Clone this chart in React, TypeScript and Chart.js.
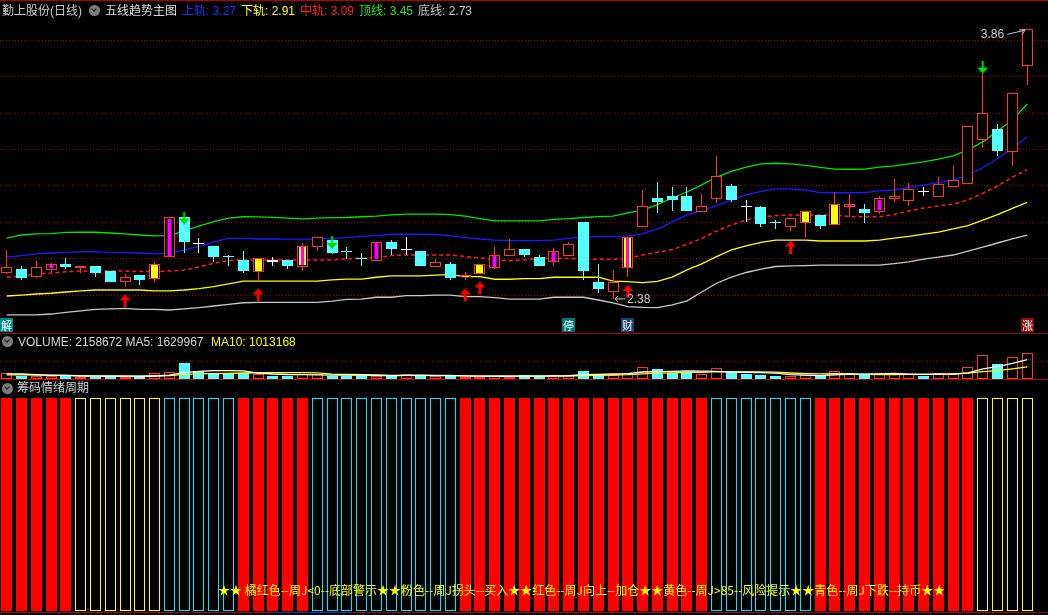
import React, { useEffect, useRef } from "react";
import { Chart, registerables } from "chart.js";
Chart.register(...registerables);

// ---------- index axis ----------
const X_MIN = -0.453;
const X_MAX = 70.41;
const P_MIN = 2.1928;
const P_MAX = 4.0213;

// ---------- price panel (五线趋势主图) ----------
const opens = [2.521,2.543,2.499,2.541,2.570,2.551,2.561,2.533,2.471,2.511,
2.491,2.609,2.828,2.685,2.670,2.616,2.594,2.529,2.588,2.594,
2.557,2.667,2.703,2.639,2.603,2.590,2.691,2.649,2.643,2.557,
2.572,2.499,2.517,2.551,2.617,2.654,2.612,2.581,2.617,2.804,
2.475,2.420,2.551,2.777,2.934,2.945,2.945,2.859,2.930,3.000,
2.886,2.886,2.801,2.777,2.798,2.841,2.786,2.886,2.874,2.859,
2.929,2.919,2.969,2.941,2.996,3.009,3.253,3.313,3.188,3.661];
const highs = [2.649,2.561,2.589,2.579,2.603,2.561,2.561,2.533,2.517,2.511,
2.583,2.828,2.830,2.713,2.670,2.621,2.643,2.603,2.612,2.594,
2.685,2.718,2.703,2.667,2.630,2.693,2.703,2.722,2.643,2.597,
2.584,2.529,2.572,2.667,2.709,2.654,2.621,2.661,2.691,2.804,
2.572,2.539,2.720,2.978,3.022,2.996,2.996,2.956,3.165,3.011,
2.923,2.892,2.813,2.823,2.863,2.841,2.965,2.956,2.901,2.945,
3.038,3.018,2.993,3.048,3.115,3.329,3.620,3.340,3.509,3.860];
const lows = [2.517,2.484,2.497,2.521,2.544,2.524,2.502,2.475,2.444,2.455,
2.475,2.609,2.634,2.634,2.584,2.562,2.524,2.484,2.562,2.544,
2.535,2.643,2.625,2.597,2.562,2.588,2.621,2.621,2.560,2.557,
2.484,2.484,2.517,2.544,2.617,2.609,2.562,2.562,2.617,2.484,
2.414,2.380,2.502,2.777,2.853,2.864,2.864,2.859,2.905,2.914,
2.804,2.777,2.764,2.755,2.722,2.764,2.786,2.831,2.795,2.846,
2.914,2.892,2.945,2.941,2.996,3.009,3.207,3.167,3.110,3.555];
const closes = [2.554,2.497,2.554,2.570,2.557,2.561,2.524,2.475,2.500,2.484,
2.572,2.828,2.694,2.685,2.612,2.615,2.535,2.603,2.588,2.562,
2.670,2.718,2.634,2.638,2.602,2.691,2.654,2.649,2.562,2.581,
2.493,2.511,2.572,2.621,2.652,2.621,2.562,2.643,2.683,2.535,
2.434,2.475,2.720,2.890,2.914,2.923,2.864,2.890,3.055,2.923,
2.886,2.791,2.800,2.823,2.863,2.780,2.901,2.899,2.853,2.932,
2.945,2.982,2.969,3.011,3.033,3.329,3.399,3.194,3.509,3.860];

const topLine = [2.714,2.731,2.737,2.739,2.745,2.746,2.746,2.742,2.737,2.731,
2.726,2.728,2.753,2.780,2.805,2.824,2.831,2.830,2.828,2.824,
2.819,2.824,2.826,2.827,2.831,2.835,2.841,2.845,2.845,2.845,
2.843,2.835,2.821,2.808,2.808,2.808,2.808,2.817,2.821,2.827,
2.832,2.835,2.852,2.868,2.898,2.934,2.967,3.006,3.049,3.080,
3.104,3.121,3.125,3.121,3.113,3.102,3.093,3.092,3.093,3.104,
3.110,3.121,3.132,3.148,3.165,3.198,3.242,3.302,3.362,3.450];
const upperBand = [2.609,2.618,2.627,2.632,2.636,2.638,2.640,2.636,2.634,2.632,
2.627,2.632,2.649,2.668,2.693,2.712,2.712,2.709,2.709,2.708,
2.708,2.708,2.712,2.717,2.723,2.728,2.735,2.735,2.735,2.734,
2.726,2.717,2.709,2.703,2.700,2.700,2.700,2.703,2.712,2.720,
2.722,2.722,2.726,2.737,2.764,2.802,2.841,2.865,2.893,2.923,
2.951,2.970,2.984,2.984,2.978,2.964,2.963,2.963,2.964,2.973,
2.978,2.992,3.005,3.019,3.033,3.060,3.100,3.151,3.205,3.270];
const midLine = [2.499,2.506,2.517,2.522,2.529,2.533,2.533,2.533,2.533,2.530,
2.530,2.533,2.539,2.555,2.576,2.590,2.594,2.594,2.594,2.594,
2.594,2.594,2.594,2.599,2.603,2.605,2.618,2.621,2.621,2.621,
2.621,2.613,2.605,2.594,2.590,2.594,2.602,2.603,2.602,2.598,
2.598,2.598,2.603,2.621,2.636,2.651,2.679,2.712,2.753,2.786,
2.813,2.830,2.838,2.841,2.841,2.841,2.841,2.832,2.831,2.831,
2.843,2.863,2.879,2.890,2.901,2.923,2.960,3.000,3.048,3.090];
const lowerBand = [2.396,2.401,2.407,2.411,2.418,2.424,2.429,2.429,2.429,2.429,
2.424,2.424,2.429,2.436,2.447,2.462,2.478,2.478,2.478,2.478,
2.478,2.478,2.484,2.489,2.489,2.499,2.506,2.506,2.506,2.511,
2.513,2.502,2.502,2.488,2.488,2.491,2.491,2.499,2.499,2.499,
2.499,2.478,2.475,2.469,2.476,2.500,2.539,2.572,2.612,2.649,
2.671,2.690,2.703,2.703,2.703,2.698,2.698,2.698,2.698,2.703,
2.714,2.723,2.736,2.747,2.764,2.783,2.813,2.843,2.877,2.910];
const bottomLine = [2.292,2.292,2.292,2.297,2.306,2.314,2.323,2.325,2.328,2.323,
2.323,2.319,2.325,2.332,2.341,2.350,2.359,2.361,2.361,2.361,
2.361,2.361,2.368,2.377,2.379,2.389,2.389,2.398,2.398,2.401,
2.401,2.392,2.392,2.387,2.379,2.379,2.379,2.389,2.389,2.389,
2.374,2.358,2.338,2.333,2.332,2.347,2.369,2.418,2.466,2.500,
2.525,2.544,2.558,2.561,2.563,2.565,2.565,2.565,2.565,2.566,
2.574,2.583,2.599,2.610,2.621,2.643,2.665,2.687,2.709,2.730];

const priceTicks = [2.4, 2.6, 2.8, 3.0, 3.2, 3.4, 3.6, 3.8];

// special candle bodies: m = magenta core, y = yellow, s = yellow + magenta stripe
const fillIdx = [3, 10, 11, 17, 20, 25, 31, 32, 33, 37, 42, 54, 56, 57, 59];
const fillKind = ["m", "y", "m", "y", "s", "m", "y", "y", "m", "m", "s", "y", "y", "m", "m"];

const buyIdx = [8, 17, 31, 32, 42, 53];
const buyAt = [2.369, 2.402, 2.402, 2.440, 2.421, 2.665];
const sellIdx = [12, 22, 66];
const sellAt = [2.824, 2.690, 3.653];

const tagIdx = [0, 38, 42, 69];
const tagText = ["解", "停", "财", "涨"];
const tagBg = ["#008a8a", "#007878", "#1c3b6e", "#8c1010"];

// ---------- volume panel ----------
const volumes = [480000,252000,277000,252000,277000,193000,193000,252000,193000,143000,
479000,563000,1344000,647000,479000,479000,479000,420000,252000,252000,
420000,420000,277000,277000,277000,277000,252000,420000,277000,227000,
277000,143000,193000,277000,193000,336000,193000,336000,336000,672000,
420000,336000,529000,983000,840000,529000,529000,420000,899000,563000,
420000,336000,277000,227000,336000,277000,647000,420000,395000,420000,
420000,420000,252000,479000,479000,983000,2016000,1260000,1823000,2158672];
const volDir = "rcrrcrccrcrrcccccrccrrcccrcrcrcrrrrccrrccrrrcccrrccccrrcrrcrrrcrrrrcrr".split("");
const ma5 = [430000,420000,360000,300000,308000,250000,238000,233000,222000,195000,
252000,326000,544000,635000,702000,702000,686000,501000,422000,376000,
365000,353000,324000,329000,334000,306000,272000,301000,301000,291000,
291000,269000,223000,223000,217000,228000,238000,267000,279000,375000,
391000,420000,459000,588000,622000,643000,682000,660000,643000,588000,
566000,528000,499000,365000,319000,291000,353000,381000,415000,432000,
460000,415000,381000,398000,410000,523000,842000,1043000,1312000,1629967];
const ma10 = [350000,340000,330000,320000,310000,290000,270000,260000,255000,251000,
251000,282000,389000,428000,449000,477000,506000,523000,529000,539000,
534000,519000,413000,376000,355000,335000,312000,312000,315000,312000,
298000,270000,262000,262000,254000,260000,254000,245000,251000,296000,
310000,329000,363000,433000,498000,517000,551000,559000,616000,605000,
605000,605000,580000,504000,454000,428000,440000,440000,390000,376000,
376000,384000,381000,407000,421000,492000,628000,712000,855000,1013168];
const volTicks = [1500000];

// ---------- 筹码情绪周期 ----------
const cycleCode = "RRRRRYYYYYYCCCCCRRRRRCCCCCCCCCCRRRRRRRRRRRRRRRRRCCCCCCCRRRRRRRRRRRYYYY".split("");
const cycleValue = [1,1,1,1,1,1,1,1,1,1,1,1,1,1,1,1,1,1,1,1,1,1,1,1,1,1,1,1,1,1,1,1,1,1,1,
1,1,1,1,1,1,1,1,1,1,1,1,1,1,1,1,1,1,1,1,1,1,1,1,1,1,1,1,1,1,1,1,1,1,1];
const cycleLegend = "★★ 橘红色--周J<0--底部警示★★粉色--周J拐头--买入★★红色--周J向上--加仓★★黄色--周J>85--风险提示★★青色--周J下跌--持币★★";

// ---------- styles ----------
const RED = "#ff3232";
const CYAN = "#54ffff";
const WHITE = "#ffffff";
const YEL = "#ffff00";
const MAG = "#ff00ff";
const GRID = "#a00000";
const SEP = "#b00000";
const FONT = "'Liberation Sans','Noto Sans CJK SC',sans-serif";

const pxOf = (i: number) => ((i - X_MIN) / (X_MAX - X_MIN)) * 1048;

function kind(i: number) {
  const d = closes[i] - opens[i];
  if (Math.abs(d) < 0.002) return d === 0 ? "w" : "c";
  return d > 0 ? "u" : "d";
}

function arrowImg(color: string, up: boolean) {
  const c = document.createElement("canvas");
  c.width = 11;
  c.height = 13;
  const g = c.getContext("2d")!;
  g.fillStyle = color;
  g.beginPath();
  if (up) {
    g.moveTo(5.5, 0);
    g.lineTo(11, 6);
    g.lineTo(0, 6);
    g.closePath();
    g.fill();
    g.fillRect(4, 6, 3, 7);
  } else {
    g.fillRect(4.5, 0, 2, 7);
    g.moveTo(0, 7);
    g.lineTo(11, 7);
    g.lineTo(5.5, 13);
    g.closePath();
    g.fill();
  }
  return c;
}

// snap bar elements to whole pixels so the 1px borders stay crisp
const snapBars = {
  id: "snapBars",
  afterDatasetsUpdate(chart: any) {
    chart.getSortedVisibleDatasetMetas().forEach((meta: any) => {
      if (meta.type !== "bar") return;
      meta.data.forEach((el: any) => {
        if (el.x == null || isNaN(el.x)) return;
        el.x = Math.floor(el.x) + 0.5;
        const top = Math.min(el.y, el.base);
        const bot = Math.max(el.y, el.base);
        const rTop = Math.round(top);
        const rBot = Math.max(Math.round(bot), rTop + 1);
        el.y = rTop;
        el.base = rBot;
      });
    });
  },
};

const baseOpts = (yScale: any, padding: any) => ({
  animation: false as const,
  responsive: false,
  maintainAspectRatio: false,
  devicePixelRatio: 1,
  events: [] as any[],
  layout: { padding, autoPadding: false },
  plugins: { legend: { display: false }, tooltip: { enabled: false }, title: { display: false } },
  scales: {
    x: { type: "linear" as const, min: X_MIN, max: X_MAX, stacked: true, offset: false, display: false },
    y: yScale,
  },
});

function Icon({ x, y }: { x: number; y: number }) {
  return (
    <div style={{ position: "absolute", left: x, top: y, width: 11, height: 11, borderRadius: "50%", background: "#7c7c7c" }}>
      <div style={{ position: "absolute", left: 3.2, top: 2, width: 3, height: 3, borderRight: "1.5px solid #1a1a1a", borderBottom: "1.5px solid #1a1a1a", transform: "rotate(45deg)" }} />
    </div>
  );
}

function T({ x, y, color, children, font }: any) {
  return (
    <div style={{ position: "absolute", left: x, top: y, color, fontSize: 12, lineHeight: "14px", whiteSpace: "nowrap", fontFamily: font || FONT }}>
      {children}
    </div>
  );
}

export default function App() {
  const mainRef = useRef<HTMLCanvasElement>(null);
  const volRef = useRef<HTMLCanvasElement>(null);
  const cycRef = useRef<HTMLCanvasElement>(null);

  useEffect(() => {
    document.body.style.margin = "0";
    document.body.style.background = "#000";
    const charts: Chart[] = [];
    const N = closes.length;
    const idx = Array.from({ length: N }, (_, i) => i);

    // ---------- main ----------
    const lineDs = (vals: number[], color: string, width: number, dash: number[] = []) => ({
      type: "line" as const,
      data: vals.map((v, i) => ({ x: i, y: v })),
      borderColor: color,
      borderWidth: width,
      borderDash: dash,
      pointRadius: 0,
      tension: 0,
      order: 10,
    });
    const wickColor = (i: number) => {
      const k = kind(i);
      return k === "u" ? RED : k === "w" ? WHITE : CYAN;
    };
    const bodyRange = (i: number) => {
      const k = kind(i);
      if (k === "w" || k === "c") return [closes[i] - 0.003, closes[i] + 0.003];
      return [opens[i], closes[i]];
    };
    const innerRange = (i: number) => {
      const lo = Math.min(opens[i], closes[i]);
      const hi = Math.max(opens[i], closes[i]);
      const inset = hi - lo < 0.02 ? (hi - lo) * 0.25 : 0.0065;
      return [lo + inset, hi - inset];
    };
    const barCommon = { type: "bar" as const, borderSkipped: false, inflateAmount: 0 };
    const yellowIdx = fillIdx.filter((_, k) => fillKind[k] === "y" || fillKind[k] === "s");
    const magIdx = fillIdx.filter((_, k) => fillKind[k] === "m");
    const stripeIdx = fillIdx.filter((_, k) => fillKind[k] === "s");

    const annot = {
      id: "hilo",
      afterDatasetsDraw(chart: any) {
        const { ctx, scales } = chart;
        const xs = scales.x, ys = scales.y;
        let hi = 0, lo = 0;
        for (let i = 0; i < N; i++) {
          if (highs[i] > highs[hi]) hi = i;
          if (lows[i] < lows[lo]) lo = i;
        }
        ctx.save();
        ctx.font = "12px 'Liberation Sans'";
        ctx.fillStyle = "#c8c8c8";
        ctx.strokeStyle = "#c8c8c8";
        ctx.lineWidth = 1;
        const hx = xs.getPixelForValue(hi), hy = ys.getPixelForValue(highs[hi]);
        ctx.textAlign = "right";
        ctx.textBaseline = "middle";
        ctx.fillText(highs[hi].toFixed(2), hx - 23, hy + 5);
        ctx.beginPath();
        ctx.moveTo(hx - 20, hy + 5);
        ctx.lineTo(hx - 3, hy + 1);
        ctx.stroke();
        ctx.beginPath();
        ctx.moveTo(hx - 8, hy + 0.5);
        ctx.lineTo(hx - 2, hy + 0.5);
        ctx.lineTo(hx - 5, hy + 5);
        ctx.stroke();
        const lx = xs.getPixelForValue(lo), ly = ys.getPixelForValue(lows[lo]);
        ctx.textAlign = "left";
        ctx.fillText(lows[lo].toFixed(2), lx + 14, ly + 1);
        ctx.beginPath();
        ctx.moveTo(lx + 12, ly);
        ctx.lineTo(lx + 2, ly);
        ctx.moveTo(lx + 5, ly - 3);
        ctx.lineTo(lx + 2, ly);
        ctx.lineTo(lx + 5, ly + 3);
        ctx.stroke();
        ctx.restore();
      },
    };

    const mainDatasets: any[] = [
      lineDs(topLine, "#00e600", 1.3),
      lineDs(upperBand, "#1a1aff", 1.3),
      lineDs(midLine, "#ff1a1a", 1.5, [4, 3]),
      lineDs(lowerBand, YEL, 1.3),
      lineDs(bottomLine, "#c8c8c8", 1.3),
      {
        ...barCommon,
        data: idx.map((i) => ({ x: i, y: [lows[i], highs[i]] })),
        backgroundColor: idx.map(wickColor),
        borderWidth: 0,
        barThickness: 1,
        order: 6,
      },
      {
        ...barCommon,
        data: idx.map((i) => ({ x: i, y: bodyRange(i) })),
        backgroundColor: idx.map((i) => {
          const k = kind(i);
          return k === "u" ? "#000000" : k === "w" ? WHITE : CYAN;
        }),
        borderColor: idx.map((i) => (kind(i) === "u" ? RED : CYAN)),
        borderWidth: idx.map((i) => (kind(i) === "u" || kind(i) === "d" ? 1 : 0)),
        barThickness: 11,
        order: 5,
      },
      {
        ...barCommon,
        data: yellowIdx.map((i) => ({ x: i, y: innerRange(i) })),
        backgroundColor: YEL,
        borderWidth: 0,
        barThickness: 7,
        order: 4,
      },
      {
        ...barCommon,
        data: magIdx.map((i) => ({ x: i, y: innerRange(i) })),
        backgroundColor: MAG,
        borderWidth: 0,
        barThickness: 4,
        order: 3,
      },
      {
        ...barCommon,
        data: stripeIdx.map((i) => ({ x: i, y: innerRange(i) })),
        backgroundColor: MAG,
        borderWidth: 0,
        barThickness: 3,
        order: 3,
      },
      {
        type: "line" as const,
        data: buyIdx.map((i, k) => ({ x: i, y: buyAt[k] })),
        showLine: false,
        pointStyle: arrowImg("#ff0000", true),
        pointRadius: 6,
        order: 1,
      },
      {
        type: "line" as const,
        data: sellIdx.map((i, k) => ({ x: i, y: sellAt[k] })),
        showLine: false,
        pointStyle: arrowImg("#00dd00", false),
        pointRadius: 6,
        order: 1,
      },
    ];

    if (mainRef.current) {
      charts.push(
        new Chart(mainRef.current, {
          type: "bar",
          data: { datasets: mainDatasets },
          options: baseOpts(
            {
              type: "linear",
              min: P_MIN,
              max: P_MAX,
              stacked: false,
              ticks: { display: false },
              grid: { color: GRID, drawTicks: false, lineWidth: 1 },
              border: { display: false, dash: [1, 2] },
              afterBuildTicks: (s: any) => {
                s.ticks = priceTicks.map((v) => ({ value: v }));
              },
              afterFit: (s: any) => {
                s.width = 0;
              },
            },
            0
          ) as any,
          plugins: [snapBars, annot],
        })
      );
    }

    // ---------- volume ----------
    if (volRef.current) {
      charts.push(
        new Chart(volRef.current, {
          type: "bar",
          data: {
            datasets: [
              {
                type: "line",
                data: ma5.map((v, i) => ({ x: i, y: v })),
                borderColor: "#ffffff",
                borderWidth: 1.3,
                pointRadius: 0,
                order: 1,
              } as any,
              {
                type: "line",
                data: ma10.map((v, i) => ({ x: i, y: v })),
                borderColor: YEL,
                borderWidth: 1.3,
                pointRadius: 0,
                order: 1,
              } as any,
              {
                ...barCommon,
                data: volumes.map((v, i) => ({ x: i, y: v })),
                backgroundColor: volDir.map((d) => (d === "r" ? "#000000" : CYAN)),
                borderColor: volDir.map((d) => (d === "r" ? RED : CYAN)),
                borderWidth: 1,
                barThickness: 11,
                order: 2,
              } as any,
            ],
          },
          options: baseOpts(
            {
              type: "linear",
              min: 0,
              max: 3864000,
              stacked: false,
              ticks: { display: false },
              grid: { color: GRID, drawTicks: false, lineWidth: 1 },
              border: { display: false, dash: [1, 2] },
              afterBuildTicks: (s: any) => {
                s.ticks = volTicks.map((v) => ({ value: v }));
              },
              afterFit: (s: any) => {
                s.width = 0;
              },
            },
            { top: 0, bottom: 1, left: 0, right: 0 }
          ) as any,
          plugins: [snapBars],
        })
      );
    }

    // ---------- cycle ----------
    if (cycRef.current) {
      charts.push(
        new Chart(cycRef.current, {
          type: "bar",
          data: {
            datasets: [
              {
                ...barCommon,
                data: cycleValue.map((v, i) => ({ x: i, y: v })),
                backgroundColor: cycleCode.map((c) => (c === "R" ? "#ff0000" : "#000000")),
                borderColor: cycleCode.map((c) => (c === "R" ? "#ff0000" : c === "Y" ? YEL : "#00e8ff")),
                borderWidth: cycleCode.map((c) => (c === "R" ? 0 : 1)),
                barThickness: 11,
              } as any,
            ],
          },
          options: baseOpts(
            { type: "linear", min: 0, max: 1, stacked: false, display: false },
            { top: 18, bottom: 2, left: 0, right: 0 }
          ) as any,
          plugins: [snapBars],
        })
      );
    }

    return () => charts.forEach((c) => c.destroy());
  }, []);

  const last = closes.length - 1;
  const sep = (top: number) => (
    <div style={{ position: "absolute", left: 0, top, width: 1048, height: 1, background: SEP }} />
  );

  return (
    <div style={{ position: "fixed", left: 0, top: 0, width: 1048, height: 615, background: "#000", overflow: "hidden", fontFamily: FONT }}>
      <canvas ref={mainRef} width={1048} height={333} style={{ position: "absolute", left: 0, top: 0 }} />
      <canvas ref={volRef} width={1048} height={47} style={{ position: "absolute", left: 0, top: 333 }} />
      <canvas ref={cycRef} width={1048} height={233} style={{ position: "absolute", left: 0, top: 380 }} />
      {sep(0)}
      {sep(333)}
      {sep(379)}
      {sep(612)}
      <div style={{ position: "absolute", left: 273, top: 612, width: 77, height: 1, background: "#1030c0" }} />

      {/* main header */}
      <T x={2} y={4} color="#c8c8c8">勤上股份(日线)</T>
      <Icon x={89} y={5} />
      <T x={105} y={4} color="#dcdcdc">五线趋势主图</T>
      <T x={182} y={4} color="#2b2bff">上轨: {upperBand[last].toFixed(2)}</T>
      <T x={241} y={4} color="#ffff00">下轨: {lowerBand[last].toFixed(2)}</T>
      <T x={300} y={4} color="#ff2020">中轨: {midLine[last].toFixed(2)}</T>
      <T x={359} y={4} color="#20e020">顶线: {topLine[last].toFixed(2)}</T>
      <T x={418} y={4} color="#c8c8c8">底线: {bottomLine[last].toFixed(2)}</T>

      {tagIdx.map((i, k) => (
        <div
          key={k}
          style={{
            position: "absolute",
            left: Math.round(pxOf(i) - 6.5),
            top: 318,
            width: 13,
            height: 14,
            background: tagBg[k],
            color: "#ffffff",
            fontSize: 11,
            lineHeight: "14px",
            textAlign: "center",
            fontFamily: "'Noto Sans CJK SC',sans-serif",
          }}
        >
          {tagText[k]}
        </div>
      ))}

      {/* volume header */}
      <Icon x={2} y={336} />
      <T x={18} y={334.5} color="#d8d8d8">
        VOLUME: {volumes[last]} MA5: {ma5[last]}
      </T>
      <T x={211} y={334.5} color="#ffff00">MA10: {ma10[last]}</T>

      {/* cycle header */}
      <Icon x={2} y={383} />
      <T x={17} y={381} color="#d0d0d0">筹码情绪周期</T>
      <T x={218} y={583} color="#ffff00" font="'Noto Sans CJK SC',sans-serif">{cycleLegend}</T>
    </div>
  );
}
